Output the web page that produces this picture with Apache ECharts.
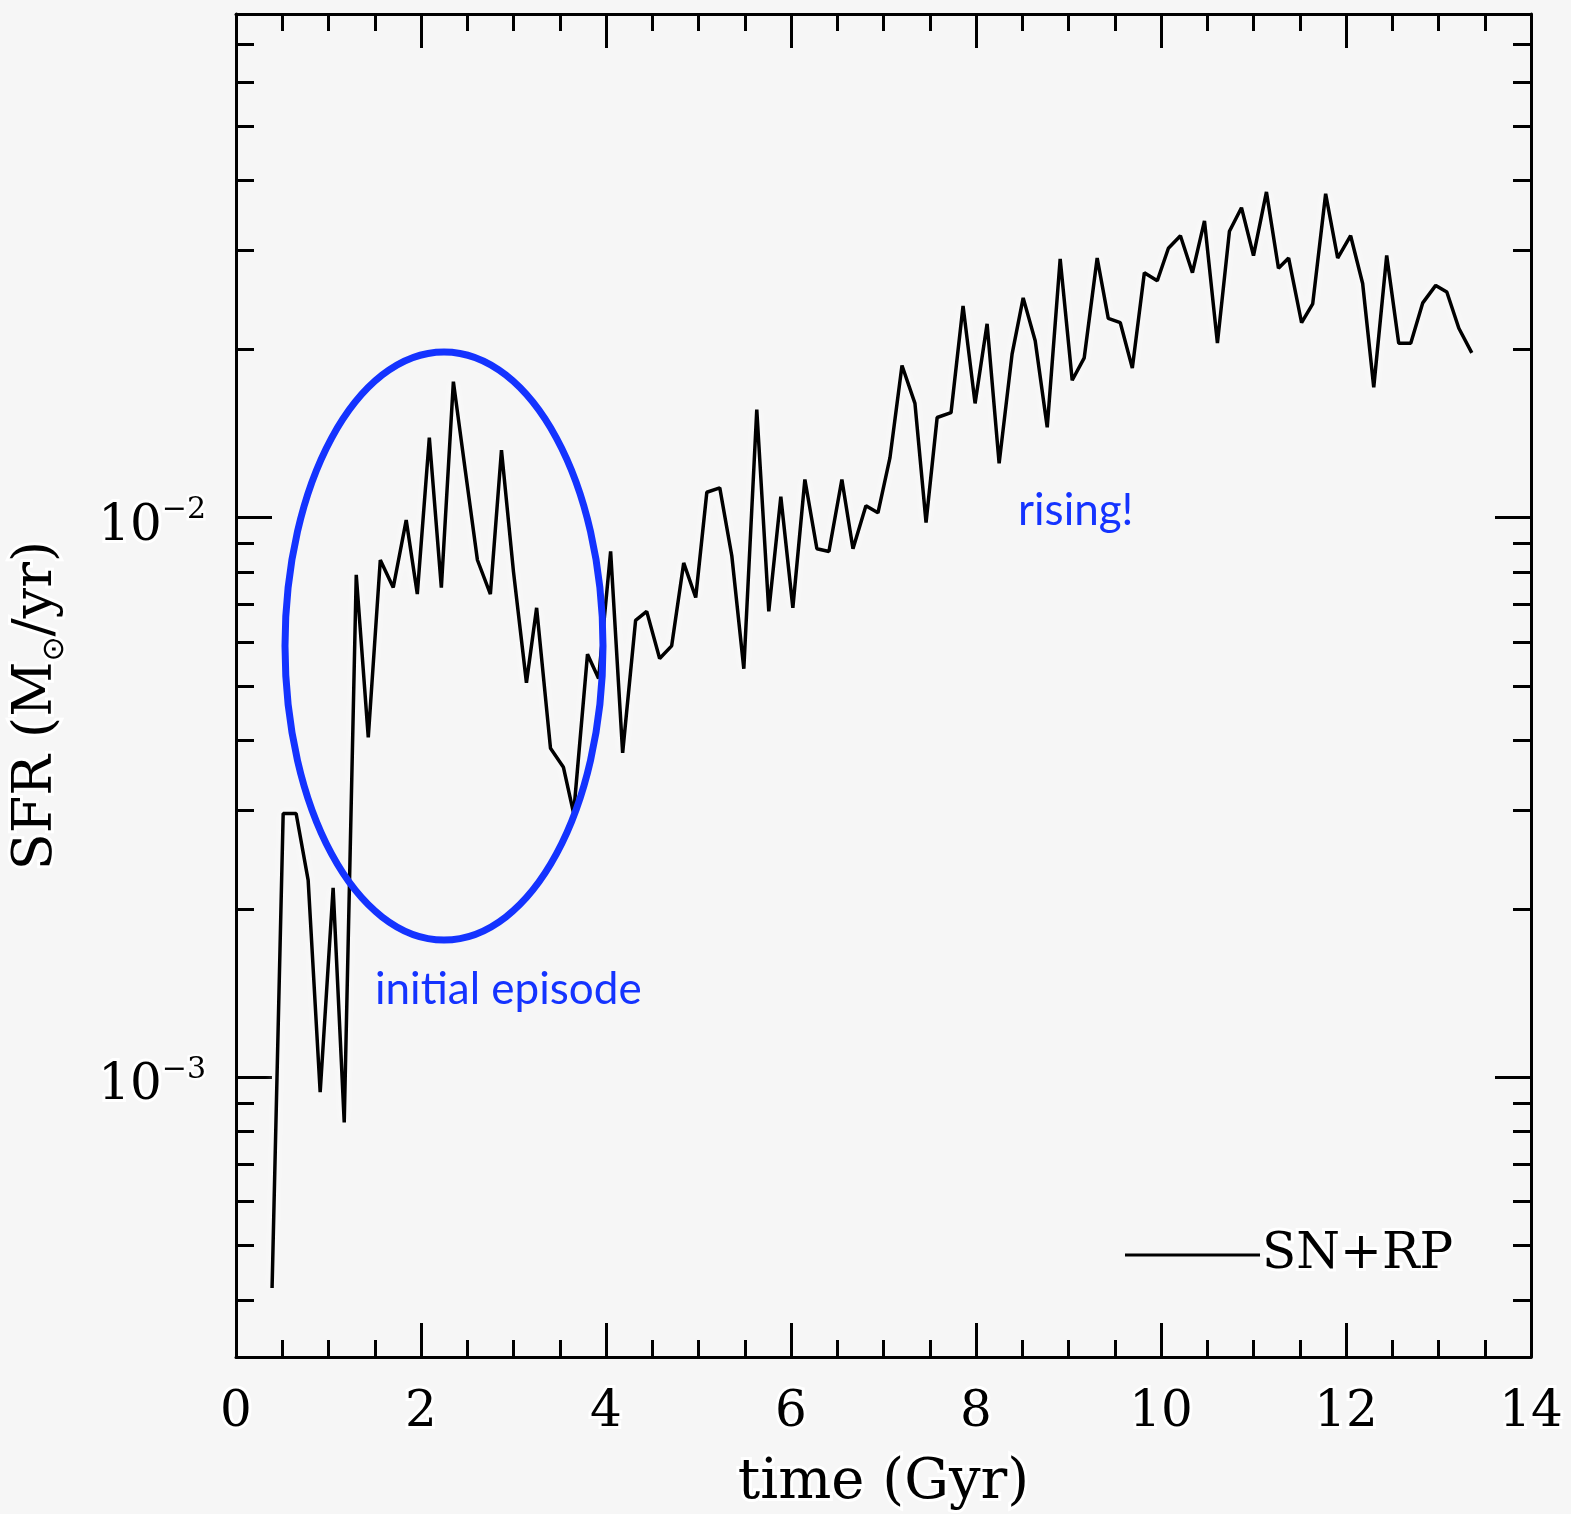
<!DOCTYPE html>
<html>
<head>
<meta charset="utf-8">
<script src="https://cdn.jsdelivr.net/npm/echarts@6/dist/echarts.min.js"></script>
<style>
html,body{margin:0;padding:0;background:#f6f6f6;}
#chart{width:1571px;height:1514px;}
</style>
</head>
<body>
<div id="chart"></div>
<script>
// ---- data ----
var timeGyr = [0.39,0.51,0.65,0.78,0.91,1.05,1.17,1.30,1.43,1.56,
  1.70,1.84,1.96,2.09,2.22,2.35,2.48,2.61,2.75,2.87,
  3.00,3.14,3.25,3.40,3.54,3.65,3.80,3.92,4.05,4.18,
  4.32,4.44,4.58,4.71,4.84,4.97,5.09,5.23,5.36,5.49,
  5.63,5.76,5.89,6.02,6.15,6.28,6.41,6.55,6.67,6.81,
  6.94,7.07,7.20,7.34,7.46,7.58,7.73,7.86,7.99,8.12,
  8.25,8.39,8.51,8.64,8.77,8.91,9.04,9.17,9.31,9.43,
  9.56,9.69,9.82,9.96,10.08,10.21,10.34,10.47,10.61,10.74,
  10.87,11.00,11.14,11.27,11.38,11.52,11.64,11.78,11.91,12.05,
  12.18,12.30,12.44,12.57,12.70,12.83,12.97,13.09,13.22,13.36];
var sfrSNRP = [4.2e-4,2.96e-3,2.96e-3,2.25e-3,9.4e-4,2.18e-3,8.3e-4,7.9e-3,4.05e-3,8.4e-3,
  7.5e-3,9.9e-3,7.3e-3,1.39e-2,7.5e-3,1.75e-2,1.21e-2,8.4e-3,7.3e-3,1.32e-2,
  8.0e-3,5.07e-3,6.9e-3,3.87e-3,3.58e-3,2.96e-3,5.7e-3,5.16e-3,8.7e-3,3.8e-3,
  6.55e-3,6.8e-3,5.6e-3,5.9e-3,8.3e-3,7.2e-3,1.11e-2,1.13e-2,8.55e-3,5.37e-3,
  1.56e-2,6.8e-3,1.09e-2,6.9e-3,1.17e-2,8.8e-3,8.7e-3,1.17e-2,8.8e-3,1.05e-2,
  1.02e-2,1.28e-2,1.87e-2,1.6e-2,9.8e-3,1.51e-2,1.54e-2,2.39e-2,1.6e-2,2.22e-2,
  1.25e-2,1.96e-2,2.47e-2,2.07e-2,1.45e-2,2.9e-2,1.76e-2,1.93e-2,2.91e-2,2.27e-2,
  2.23e-2,1.85e-2,2.74e-2,2.65e-2,3.03e-2,3.19e-2,2.74e-2,3.39e-2,2.05e-2,3.25e-2,
  3.58e-2,2.94e-2,3.82e-2,2.79e-2,2.91e-2,2.23e-2,2.41e-2,3.79e-2,2.91e-2,3.19e-2,
  2.62e-2,1.71e-2,2.94e-2,2.05e-2,2.05e-2,2.42e-2,2.6e-2,2.53e-2,2.18e-2,1.97e-2];
var seriesName = 'SN+RP';
var xTickLabels = ['0','2','4','6','8','10','12','14'];
var yMajorTicks = [1e-3, 1e-2];
var yMajorLabels = {'0.001':'{b|10}{p|\u22123}', '0.01':'{b|10}{p|\u22122}'};
var yMinorTicks = [4e-4,5e-4,6e-4,7e-4,8e-4,9e-4,2e-3,3e-3,4e-3,5e-3,6e-3,7e-3,8e-3,9e-3,2e-2,3e-2,4e-2,5e-2,6e-2,7e-2];
var xAxisName = 'time (Gyr)';
var annotations = ['initial episode', 'rising!'];

// ---- chart ----
var FONT = '"DejaVu Serif", serif';
var yMinL = -3.5, yMaxL = -1.1;
var logMin = Math.pow(10, yMinL), logMax = Math.pow(10, yMaxL);
var minorLog = yMinorTicks.map(function(v){return Math.log10(v);});
var majorLog = yMajorTicks.map(function(v){return Math.log10(v);});

var chart = echarts.init(document.getElementById('chart'), null, {renderer:'canvas'});
var tickLine = {color:'#000', width:3};
function xAx(pos, showLabel){
  return {
    type:'value', position:pos, min:0, max:14, interval:2,
    axisLine:{show:true, onZero:false, lineStyle:{color:'#000', width:3}},
    axisTick:{show:true, inside:true, length:34, lineStyle:tickLine},
    minorTick:{show:true, splitNumber:4, length:17, lineStyle:tickLine},
    splitLine:{show:false},
    axisLabel:{show:showLabel, margin:31, fontFamily:FONT, fontSize:50, color:'#000',
      textBorderColor:'#fff', textBorderWidth:6,
      formatter:function(v){return xTickLabels[Math.round(v/2)];}},
    name: showLabel ? xAxisName : '', nameLocation:'middle', nameGap:98,
    nameTextStyle:{fontFamily:FONT, fontSize:56, color:'#000', textBorderColor:'#fff', textBorderWidth:6}
  };
}
function yVal(pos, ticks, len){
  return {
    type:'value', position:pos, min:yMinL, max:yMaxL,
    axisLine:{show:false},
    axisTick:{show:true, inside:true, length:len, lineStyle:tickLine, customValues:ticks},
    axisLabel:{show:false},
    splitLine:{show:false}
  };
}
var option = {
  backgroundColor:'#f6f6f6',
  animation:false,
  grid:{left:236, right:40, top:14, bottom:157, containLabel:false, outerBoundsMode:'none'},
  legend:{
    show:true, left:1120, top:1222, itemWidth:135, itemHeight:20, itemGap:0,
    textStyle:{fontFamily:FONT, fontSize:50, color:'#000', textBorderColor:'#fff', textBorderWidth:6, padding:[0,0,0,-3]},
    data:[{name:seriesName, icon:'path://M0,8.5L135,8.5L135,11.5L0,11.5Z'}],
    selectedMode:false
  },
  xAxis:[xAx('bottom', true), xAx('top', false)],
  yAxis:[
    {
      type:'log', logBase:10, position:'left', min:logMin, max:logMax,
      axisLine:{show:true, onZero:false, lineStyle:{color:'#000', width:3}},
      axisTick:{show:false},
      minorTick:{show:false},
      splitLine:{show:false},
      axisLabel:{show:true, margin:30, color:'#000', padding:[12,0,0,0],
        showMinLabel:false, showMaxLabel:false,
        rich:{
          b:{fontFamily:FONT, fontSize:50, color:'#000', textBorderColor:'#fff', textBorderWidth:6, lineHeight:56, verticalAlign:'bottom'},
          p:{fontFamily:FONT, fontSize:30, color:'#000', textBorderColor:'#fff', textBorderWidth:5, lineHeight:30, verticalAlign:'top'}
        },
        formatter:function(v){
          var key = String(+v.toPrecision(3));
          return yMajorLabels[key] || '';
        }},
      name:'{a|SFR (M}{s|\u2299}{a|/yr)}', nameLocation:'middle', nameGap:166,
      nameTextStyle:{color:'#000', padding:[0,40,0,0],
        rich:{
          a:{fontFamily:FONT, fontSize:54, color:'#000', textBorderColor:'#fff', textBorderWidth:6, lineHeight:66, verticalAlign:'middle'},
          s:{fontFamily:'"DejaVu Sans", sans-serif', fontSize:30, color:'#000', textBorderColor:'#fff', textBorderWidth:6, lineHeight:66, verticalAlign:'bottom'}
        }}
    },
    {
      type:'log', logBase:10, position:'right', min:logMin, max:logMax,
      axisLine:{show:true, onZero:false, lineStyle:{color:'#000', width:3}},
      axisTick:{show:false}, axisLabel:{show:false}, splitLine:{show:false}
    },
    yVal('left', majorLog, 36),
    yVal('left', minorLog, 18),
    yVal('right', majorLog, 36),
    yVal('right', minorLog, 18)
  ],
  series:[{
    name:seriesName, type:'line', xAxisIndex:0, yAxisIndex:0,
    data: timeGyr.map(function(t,i){return [t, sfrSNRP[i]];}),
    showSymbol:false, symbol:'none', smooth:false,
    lineStyle:{color:'#000', width:3.5, shadowColor:'rgba(255,255,255,1)', shadowBlur:8},
    itemStyle:{color:'#000'},
    z:5
  }],
  graphic:[
    {type:'ellipse', shape:{cx:444, cy:646, rx:159, ry:294}, z:10,
      style:{fill:null, stroke:'#1433ff', lineWidth:7}},
    {type:'text', x:375, y:990, z:10,
      style:{text:annotations[0], font:'44px Lato, "Open Sans", sans-serif', fill:'#1433ff', verticalAlign:'middle', align:'left'}},
    {type:'text', x:1018, y:511, z:10,
      style:{text:annotations[1], font:'44px Lato, "Open Sans", sans-serif', fill:'#1433ff', verticalAlign:'middle', align:'left'}}
  ]
};
chart.setOption(option);
</script>
</body>
</html>
